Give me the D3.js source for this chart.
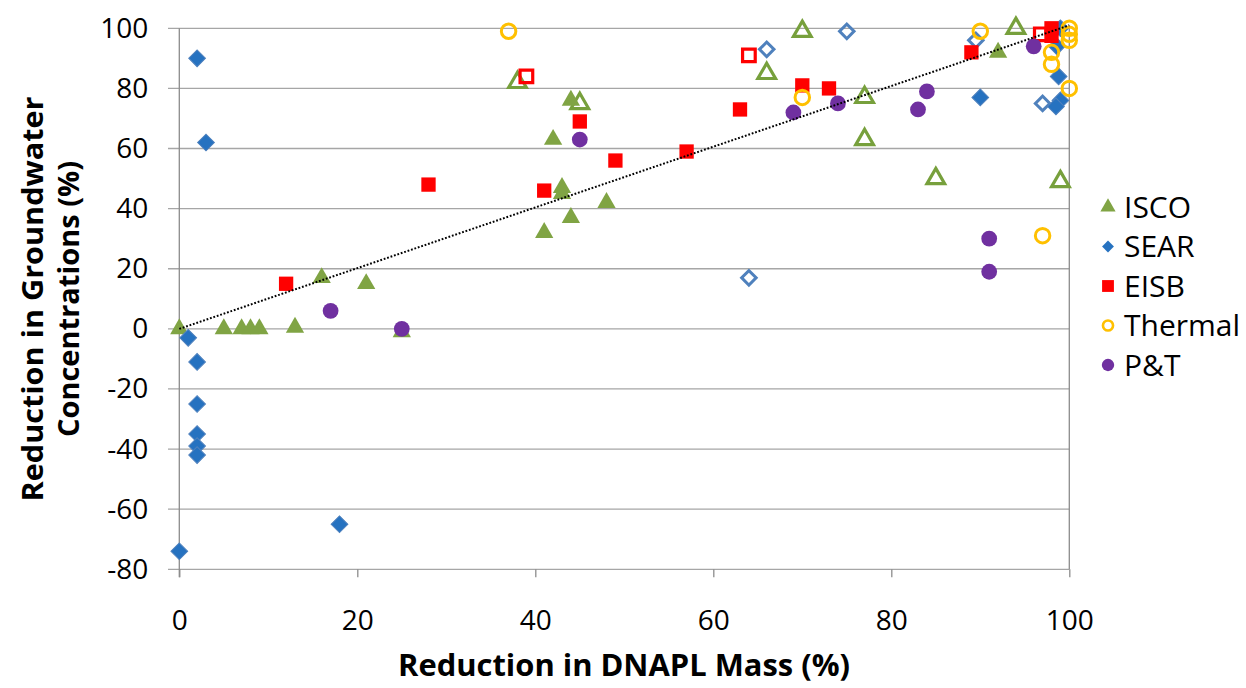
<!DOCTYPE html>
<html>
<head>
<meta charset="utf-8">
<script src="https://cdn.jsdelivr.net/npm/d3@7"></script>
<style>
  body { margin: 0; background: #fff; }
  text { font-family: "Open Sans", sans-serif; fill: #000; }
</style>
</head>
<body>
<div id="chart"></div>
<script>
// data: [mass reduction %, groundwater reduction %]
var iscoFilled = [[0,0],[5,0],[7,0],[8,0],[9,0],[13,0.5],[16,17],[21,15],[25,-1],[41,32],[42,63],
  [43,47],[43,45],[44,37],[44,76],[48,42],[92,92]];
var iscoOpen = [[38,82],[45,75],[66,85],[70,99],[77,77],[77,63],[85,50],[94,100],[99,49]];
var searFilled = [[2,90],[3,62],[1,-3],[2,-11],[2,-25],[2,-35],[2,-39],[2,-42],[18,-65],[0,-74],
  [90,77],[99,100],[98.6,94],[98.8,84],[99,76],[98.5,74]];
var searOpen = [[66,93],[75,99],[64,17],[89.5,96],[97,75]];
var eisbFilled = [[12,15],[28,48],[41,46],[45,69],[49,56],[57,59],[63,73],[70,81],[73,80],[89,92],
  [98,100],[98,97.5]];
var eisbOpen = [[39,84],[64,91],[96.8,98]];
var thermal = [[37,99],[70,77],[90,99],[97,31],[98,92],[98,88],[100,80],[100,100],[100,98],[100,96]];
var pt = [[17,6],[25,0],[45,63],[69,72],[74,75],[83,73],[84,79],[91,30],[91,19],[96,94]];
var trend = [[0,0],[100,101]];

var xTicks = [0,20,40,60,80,100];
var yTicks = [-80,-60,-40,-20,0,20,40,60,80,100];
var legendItems = ["ISCO","SEAR","EISB","Thermal","P&T"];

var W = 1246, H = 688;
var x = d3.scaleLinear().domain([0,100]).range([179.3,1069.3]);
var y = d3.scaleLinear().domain([-80,100]).range([569.3,28.3]);

var svg = d3.select("#chart").append("svg")
  .attr("width", W).attr("height", H);

// grid lines
svg.append("g").selectAll("line")
  .data(yTicks).enter().append("line")
  .attr("x1", 168).attr("x2", x(100))
  .attr("y1", d => y(d)).attr("y2", d => y(d))
  .attr("stroke", "#a6a6a6").attr("stroke-width", 1.3);

// axes
var xAxis = svg.append("g")
  .attr("transform", "translate(0," + y(-80) + ")")
  .call(d3.axisBottom(x).tickValues(xTicks).tickFormat(d => String(d)).tickSize(8).tickPadding(33));
xAxis.select(".domain").remove();
xAxis.selectAll("line").attr("stroke", "#8c8c8c").attr("stroke-width", 1.3);
xAxis.selectAll("text").style("font-size", "28px").attr("fill", "#000");

var yAxis = svg.append("g")
  .attr("transform", "translate(" + x(0) + ",0)")
  .call(d3.axisLeft(y).tickValues(yTicks).tickFormat(d => String(d)).tickSize(0).tickPadding(31));
yAxis.select(".domain").remove();
yAxis.selectAll("text").style("font-size", "28px").attr("fill", "#000");

svg.append("line")
  .attr("x1", x(0)).attr("x2", x(0)).attr("y1", y(100)).attr("y2", y(-80) + 8)
  .attr("stroke", "#8c8c8c").attr("stroke-width", 1.3);
svg.append("line")
  .attr("x1", x(100)).attr("x2", x(100)).attr("y1", y(100)).attr("y2", y(-80))
  .attr("stroke", "#8c8c8c").attr("stroke-width", 1.3);

// markers
var tri = d3.symbol().type(d3.symbolTriangle);
var sq = d3.symbol().type(d3.symbolSquare);
var circ = d3.symbol().type(d3.symbolCircle);

function drawSeries(data, gen, size, fill, stroke, sw, rot) {
  svg.append("g").selectAll("path")
    .data(data).enter().append("path")
    .attr("d", gen.size(size)())
    .attr("transform", d => "translate(" + x(d[0]) + "," + y(d[1]) + ")" + (rot ? " rotate(45)" : ""))
    .attr("fill", fill)
    .attr("stroke", stroke)
    .attr("stroke-width", sw);
}

drawSeries(iscoOpen, tri, 135, "none", "#77a03c", 3.2, false);
drawSeries(iscoFilled, tri, 145, "#80a444", "none", 0, false);
drawSeries(searOpen, sq, 105, "none", "#4f81bd", 3, true);
drawSeries(searFilled, sq, 140, "#2672c0", "#4f81bd", 1, true);
drawSeries(eisbOpen, sq, 160, "none", "#ff0000", 3.2, false);
drawSeries(eisbFilled, sq, 205, "#ff0000", "none", 0, false);
drawSeries(thermal, circ, 165, "none", "#ffc000", 3, false);
drawSeries(pt, circ, 195, "#7030a0", "none", 0, false);

// trend line
svg.append("path")
  .datum(trend)
  .attr("d", d3.line().x(d => x(d[0])).y(d => y(d[1])))
  .attr("fill", "none")
  .attr("stroke", "#000")
  .attr("stroke-width", 2)
  .attr("stroke-dasharray", "1.8,1.8");

// axis titles
svg.append("text")
  .attr("x", 624).attr("y", 676)
  .attr("text-anchor", "middle")
  .style("font-size", "30px").style("font-weight", "bold")
  .attr("textLength", 452).attr("lengthAdjust", "spacingAndGlyphs")
  .text("Reduction in DNAPL Mass (%)");

var yt = svg.append("g").attr("transform", "translate(43,299) rotate(-90)");
yt.append("text")
  .attr("x", 0).attr("y", 0)
  .attr("text-anchor", "middle")
  .style("font-size", "29px").style("font-weight", "bold")
  .attr("textLength", 405).attr("lengthAdjust", "spacingAndGlyphs")
  .text("Reduction in Groundwater");
yt.append("text")
  .attr("x", 0).attr("y", 36)
  .attr("text-anchor", "middle")
  .style("font-size", "29px").style("font-weight", "bold")
  .text("Concentrations (%)");

// legend
var legendStyle = [
  {gen: tri, size: 100, fill: "#80a444", stroke: "none", sw: 0},
  {gen: sq, size: 70, fill: "#2672c0", stroke: "none", sw: 0, rot: true},
  {gen: sq, size: 140, fill: "#ff0000", stroke: "none", sw: 0},
  {gen: circ, size: 80, fill: "none", stroke: "#ffc000", sw: 2.6},
  {gen: circ, size: 120, fill: "#7030a0", stroke: "none", sw: 0}
];
var legend = svg.append("g").selectAll("g")
  .data(legendItems).enter().append("g")
  .attr("transform", (d, i) => "translate(1108," + (207 + i * 39.5) + ")");
legend.append("path")
  .attr("d", (d, i) => legendStyle[i].gen.size(legendStyle[i].size)())
  .attr("transform", (d, i) => legendStyle[i].rot ? "rotate(45)" : null)
  .attr("fill", (d, i) => legendStyle[i].fill)
  .attr("stroke", (d, i) => legendStyle[i].stroke)
  .attr("stroke-width", (d, i) => legendStyle[i].sw);
legend.append("text")
  .attr("x", 16).attr("dy", "0.36em")
  .style("font-size", "30px")
  .text(d => d);
</script>
</body>
</html>
